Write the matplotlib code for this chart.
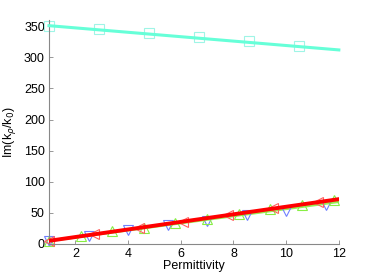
import matplotlib
matplotlib.use("Agg")
import matplotlib.pyplot as plt

plt.rcParams['font.family'] = ['Liberation Sans', 'DejaVu Sans']

# upper branch (cyan)
sq_x = [1.0, 2.9, 4.8, 6.7, 8.6, 10.5]
sq_y = [350, 345, 339, 333, 326, 318]
cyan_line_x = [1, 12]
cyan_line_y = [351, 312]

# lower branch
red_line_x = [1, 12]
red_line_y = [5, 72]
green_line_y = [5, 68]

down_x = [1.0, 2.5, 4.0, 5.5, 7.0, 8.5, 10.0, 11.5]
down_y = [4, 12, 22, 30, 37, 46, 53, 62]
up_x = [1.0, 2.2, 3.4, 4.6, 5.8, 7.0, 8.2, 9.4, 10.6, 11.8]
up_y = [5, 13, 20, 26, 34, 40, 48, 56, 63, 71]
left_x = [1.0, 2.7, 4.4, 6.1, 7.8, 9.5, 11.2]
left_y = [5, 16, 26, 36, 46, 57, 68]

xticks = [2, 4, 6, 8, 10, 12]
yticks = [0, 50, 100, 150, 200, 250, 300, 350]

fig = plt.figure(figsize=(3.74, 2.75), dpi=100)
ax = fig.add_axes([0.131, 0.113, 0.775, 0.814])

ax.plot(cyan_line_x, cyan_line_y, color='#66ffd8', lw=2.2, zorder=3, clip_on=False)
ax.plot(sq_x, sq_y, ls='none', marker='s', ms=7, mfc='none', mec='#9ff5e6', mew=0.8,
        zorder=2, clip_on=False)

ax.plot(red_line_x, green_line_y, color='#99ee55', lw=2.0, zorder=2)
ax.plot(down_x, down_y, ls='none', marker='v', ms=7.5, mfc='none', mec='#7080ff', mew=0.8,
        zorder=2, clip_on=False)
ax.plot(up_x, up_y, ls='none', marker='^', ms=7.5, mfc='none', mec='#88ee44', mew=0.8,
        zorder=2, clip_on=False)
ax.plot(left_x, left_y, ls='none', marker='<', ms=7.5, mfc='none', mec='#ff6060', mew=0.8,
        zorder=2, clip_on=False)
ax.plot(red_line_x, red_line_y, color='#ff0000', lw=2.8, zorder=4)

ax.set_xlim(1, 12)
ax.set_ylim(0, 360)
ax.set_xticks(xticks)
ax.set_yticks(yticks)
ax.tick_params(direction='in', length=3, width=0.6, color='#888888', labelsize=9, pad=3)
for s in ['top', 'right']:
    ax.spines[s].set_visible(False)
for s in ['left', 'bottom']:
    ax.spines[s].set_color('#888888')
    ax.spines[s].set_linewidth(0.8)

ax.set_xlabel('Permittivity', fontsize=9, labelpad=0)
ax.set_ylabel(r'Im(k$_\rho$/k$_0$)', fontsize=9, labelpad=4)

fig.savefig('out.png', dpi=100)
